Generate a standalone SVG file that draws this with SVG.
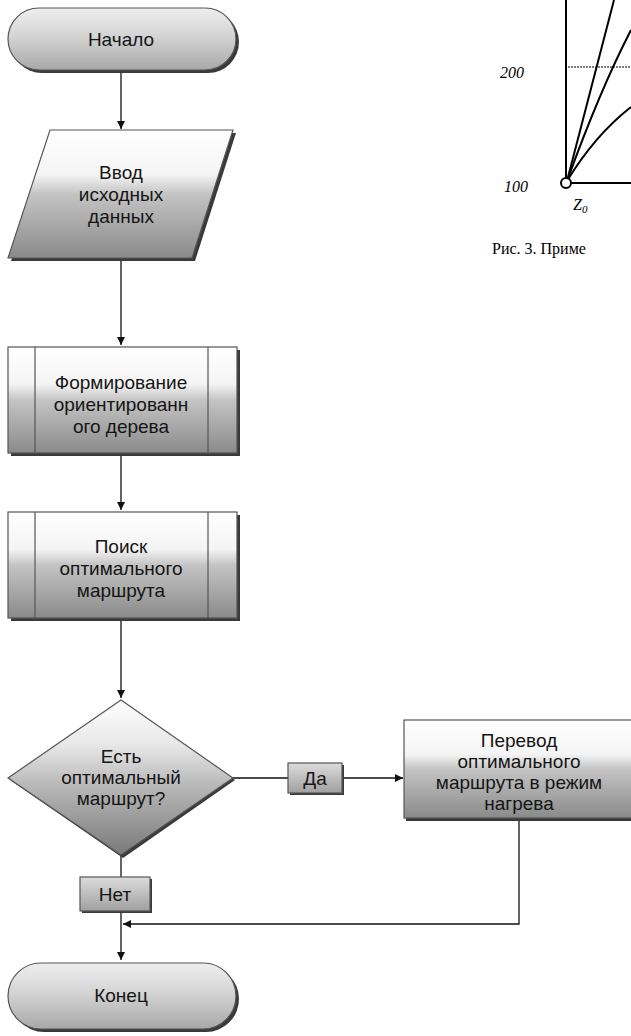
<svg xmlns="http://www.w3.org/2000/svg" width="631" height="1036" viewBox="0 0 631 1036">
<style>
.t{font-family:"Liberation Sans",Arial,sans-serif;font-size:19px;fill:#151515;text-anchor:middle}
.s{fill:#3a3a3a}
.o{stroke:#555;stroke-width:1.2}
.c{stroke:#111;stroke-width:1.3;fill:none}
.ax{stroke:#000;stroke-width:2;fill:none}
.it{font-family:"Liberation Serif","Times New Roman",serif;font-style:italic;font-size:16px;fill:#000}
.cap{font-family:"Liberation Serif","Times New Roman",serif;font-size:16px;fill:#000}
</style>
<defs>
<linearGradient id="g" x1="0" y1="0" x2="0" y2="1">
<stop offset="0" stop-color="#ffffff"/>
<stop offset="0.35" stop-color="#f4f4f4"/>
<stop offset="0.5" stop-color="#c4c4c4"/>
<stop offset="1" stop-color="#8a8a8a"/>
</linearGradient>
<linearGradient id="gt" x1="0" y1="0" x2="0" y2="1">
<stop offset="0" stop-color="#eeeeee"/>
<stop offset="0.45" stop-color="#d4d4d4"/>
<stop offset="1" stop-color="#a8a8a8"/>
</linearGradient>
<linearGradient id="gd" x1="0" y1="0" x2="0" y2="1">
<stop offset="0" stop-color="#ffffff"/>
<stop offset="0.3" stop-color="#e6e6e6"/>
<stop offset="0.55" stop-color="#b8b8b8"/>
<stop offset="1" stop-color="#7a7a7a"/>
</linearGradient>
<linearGradient id="gs" x1="0" y1="0" x2="0" y2="1">
<stop offset="0" stop-color="#dcdcdc"/>
<stop offset="1" stop-color="#a0a0a0"/>
</linearGradient>
<marker id="a" viewBox="0 0 10 10" refX="10" refY="5" markerWidth="8" markerHeight="8" orient="auto" markerUnits="userSpaceOnUse">
<path d="M0,0 L10,5 L0,10 z" fill="#111"/>
</marker>
</defs>

<g id="chart">
<line class="ax" x1="566" y1="0" x2="566" y2="178"/>
<line class="ax" x1="571" y1="183" x2="631" y2="183"/>
<line x1="568" y1="67" x2="631" y2="67" stroke="#000" stroke-width="1" stroke-dasharray="2,1"/>
<path class="ax" d="M567,181 L614,0"/>
<path class="ax" d="M567,181 Q600,90 631,30"/>
<path class="ax" d="M567,181 Q595,135 631,107"/>
<circle cx="566" cy="183" r="5" fill="#fff" stroke="#000" stroke-width="2"/>
<text class="it" x="500" y="78">200</text>
<text class="it" x="504" y="192">100</text>
<text class="it" x="573" y="210">Z<tspan font-size="11" dy="3">0</tspan></text>
<text class="cap" x="492" y="254">Рис. 3. Приме</text>
</g>

<g id="connectors">
<line class="c" x1="121" y1="72" x2="121" y2="129" marker-end="url(#a)"/>
<line class="c" x1="121" y1="258" x2="121" y2="345" marker-end="url(#a)"/>
<line class="c" x1="121" y1="454" x2="121" y2="510" marker-end="url(#a)"/>
<line class="c" x1="121" y1="620" x2="121" y2="698" marker-end="url(#a)"/>
<line class="c" x1="233" y1="778" x2="288" y2="778"/>
<line class="c" x1="342" y1="778" x2="403" y2="778" marker-end="url(#a)"/>
<line class="c" x1="121" y1="855" x2="121" y2="877"/>
<line class="c" x1="121" y1="912" x2="121" y2="960" marker-end="url(#a)"/>
<polyline class="c" points="519,819 519,924 123,924" marker-end="url(#a)"/>
</g>

<g id="start">
<rect class="s" x="11" y="11" width="228" height="62" rx="31"/>
<rect class="o" x="8" y="8" width="228" height="62" rx="31" fill="url(#gt)"/>
<text class="t" x="121" y="46">Начало</text>
</g>

<g id="input">
<polygon class="s" points="53,133 236,133 195,261 11,261"/>
<polygon class="o" points="50,130 233,130 192,258 8,258" fill="url(#g)"/>
<text class="t" x="121" y="179">Ввод</text>
<text class="t" x="121" y="201">исходных</text>
<text class="t" x="121" y="223">данных</text>
</g>

<g id="tree">
<rect class="s" x="11" y="350" width="229" height="106"/>
<rect class="o" x="8" y="347" width="229" height="106" fill="url(#g)"/>
<line class="o" x1="35" y1="347" x2="35" y2="453"/>
<line class="o" x1="208" y1="347" x2="208" y2="453"/>
<text class="t" x="121" y="389">Формирование</text>
<text class="t" x="121" y="411">ориентированн</text>
<text class="t" x="121" y="433">ого дерева</text>
</g>

<g id="search">
<rect class="s" x="11" y="515" width="229" height="106"/>
<rect class="o" x="8" y="512" width="229" height="106" fill="url(#g)"/>
<line class="o" x1="35" y1="512" x2="35" y2="618"/>
<line class="o" x1="208" y1="512" x2="208" y2="618"/>
<text class="t" x="121" y="553">Поиск</text>
<text class="t" x="121" y="575">оптимального</text>
<text class="t" x="121" y="597">маршрута</text>
</g>

<g id="decision">
<polygon class="s" points="123,702 235,780 123,858 10,780"/>
<polygon class="o" points="121,700 233,778 121,855 8,778" fill="url(#gd)"/>
<text class="t" x="121" y="763">Есть</text>
<text class="t" x="121" y="784">оптимальный</text>
<text class="t" x="121" y="805">маршрут?</text>
</g>

<g id="yes">
<rect class="s" x="290" y="765" width="54" height="30"/>
<rect class="o" x="288" y="763" width="54" height="30" fill="url(#gs)"/>
<text class="t" x="315" y="785">Да</text>
</g>

<g id="transfer">
<rect class="s" x="406" y="723" width="230" height="98"/>
<rect class="o" x="404" y="720" width="230" height="98" fill="url(#g)"/>
<text class="t" x="519" y="747">Перевод</text>
<text class="t" x="519" y="768">оптимального</text>
<text class="t" x="519" y="789">маршрута в режим</text>
<text class="t" x="519" y="810">нагрева</text>
</g>

<g id="no">
<rect class="s" x="82" y="879" width="70" height="34"/>
<rect class="o" x="80" y="877" width="70" height="34" fill="url(#gs)"/>
<text class="t" x="115" y="901">Нет</text>
</g>

<g id="end">
<rect class="s" x="11" y="966" width="228" height="66" rx="33"/>
<rect class="o" x="8" y="963" width="228" height="66" rx="33" fill="url(#gt)"/>
<text class="t" x="121" y="1002">Конец</text>
</g>
</svg>
